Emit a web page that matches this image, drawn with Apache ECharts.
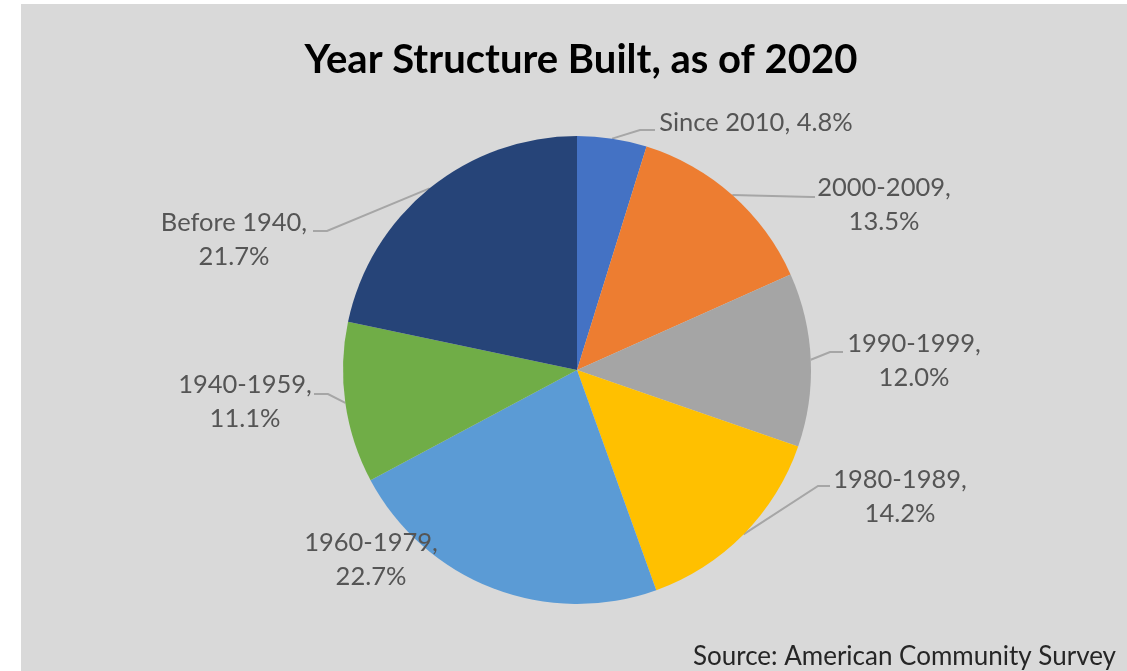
<!DOCTYPE html>
<html>
<head>
<meta charset="utf-8">
<script src="https://cdn.jsdelivr.net/npm/echarts@6/dist/echarts.min.js"></script>
<style>
  html, body { margin: 0; padding: 0; background: #ffffff; }
  #chart { width: 1127px; height: 671px; }
</style>
</head>
<body>
<div id="chart"></div>
<script>
// Share of housing structures by year built
const categories = ['Since 2010', '2000-2009', '1990-1999', '1980-1989', '1960-1979', '1940-1959', 'Before 1940'];
const shares = [4.8, 13.5, 12.0, 14.2, 22.7, 11.1, 21.7];
const titleText = 'Year Structure Built, as of 2020';
const sourceText = 'Source: American Community Survey';

// Office palette, one colour per slice
const sliceColors = ['#4472C4', '#ED7D31', '#A5A5A5', '#FFC000', '#5B9BD5', '#70AD47', '#264478'];

// Where each data label sits (centre of its text block) and how its leader bends
const labelPlacement = [
  { center: [756, 123], bend: [640, 130], end: [655, 130], oneLine: true },
  { center: [884, 205], bend: [812, 197], end: [815, 197] },
  { center: [914, 361], bend: [830, 352], end: [843, 352] },
  { center: [900, 497], bend: [818, 486], end: [830, 486] },
  { center: [371, 560], noLine: true },
  { center: [245, 402], bend: [328, 394], end: [314, 394] },
  { center: [234, 240], bend: [327, 231], end: [313, 231] }
];

const FONT = 'Lato, Carlito, Calibri, "Open Sans", sans-serif';

const chart = echarts.init(document.getElementById('chart'), null, { renderer: 'canvas' });

const pieData = categories.map((name, i) => ({
  name: name,
  value: shares[i],
  itemStyle: { color: sliceColors[i] },
  labelLine: { show: !labelPlacement[i].noLine }
}));

chart.setOption({
  animation: false,
  graphic: [
    {
      type: 'rect',
      z: -10,
      shape: { x: 21, y: 4, width: 1106, height: 667 },
      style: { fill: '#d9d9d9' },
      silent: true
    },
    {
      type: 'text',
      z: 10,
      style: {
        x: 1116, y: 657,
        text: sourceText,
        align: 'right',
        verticalAlign: 'middle',
        fill: '#262626',
        font: '26px ' + FONT
      },
      silent: true
    }
  ],
  title: {
    text: titleText,
    left: 576,
    top: 35,
    textAlign: 'center',
    textStyle: {
      fontFamily: FONT,
      fontWeight: 'bold',
      fontSize: 40,
      color: '#000000'
    }
  },
  series: [{
    type: 'pie',
    center: [577, 370],
    radius: 234,
    startAngle: 90,
    clockwise: true,
    avoidLabelOverlap: false,
    silent: true,
    itemStyle: { borderWidth: 0 },
    label: {
      show: true,
      position: 'outside',
      fontFamily: FONT,
      fontSize: 25.5,
      lineHeight: 34,
      color: '#555555',
      align: 'center',
      formatter: function (p) {
        const sep = labelPlacement[p.dataIndex].oneLine ? ', ' : ',\n';
        return p.name + sep + p.value.toFixed(1) + '%';
      }
    },
    labelLine: {
      show: true,
      length: 10,
      length2: 10,
      lineStyle: { color: '#a6a6a6', width: 2 }
    },
    labelLayout: function (params) {
      const pl = labelPlacement[params.dataIndex];
      const out = {
        x: pl.center[0],
        y: pl.center[1],
        align: 'center',
        verticalAlign: 'middle'
      };
      if (!pl.noLine && params.labelLinePoints) {
        out.labelLinePoints = [params.labelLinePoints[0], pl.bend, pl.end];
      }
      return out;
    },
    data: pieData
  }]
});
</script>
</body>
</html>
